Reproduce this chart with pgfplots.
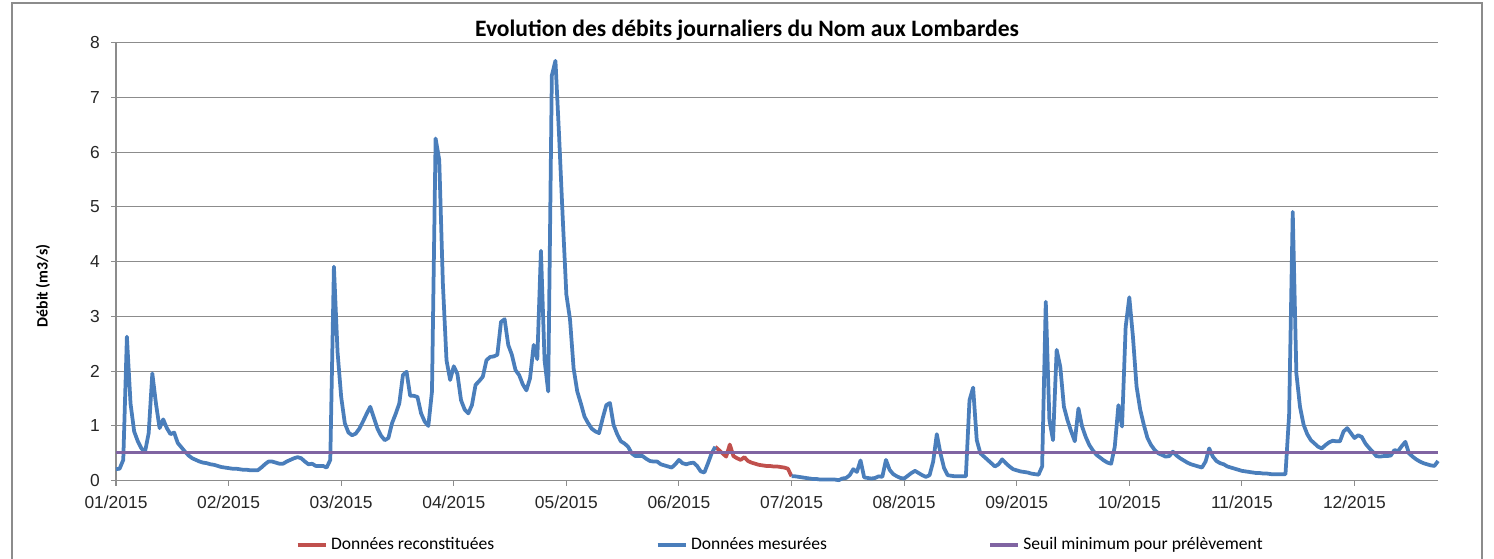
\documentclass[border=0pt]{standalone}
\usepackage{fontspec}
\setmainfont{Carlito}
\newfontfamily\arialf{Liberation Sans}
\usepackage{pgfplots}
\usepackage{pgfplotstable}
\pgfplotsset{compat=1.18}

\definecolor{mesure}{RGB}{74,126,187}
\definecolor{recons}{RGB}{192,80,77}
\definecolor{seuil}{RGB}{128,100,162}
\definecolor{grille}{RGB}{140,140,140}

% day index (0 = 01/01/2015), flow in m3/s
\pgfplotstableread{
day flow
0 0.21
1 0.22
2 0.38
3 2.63
4 1.41
5 0.90
6 0.72
7 0.59
8 0.53
9 0.87
10 1.96
11 1.41
12 0.96
13 1.12
14 0.96
15 0.85
16 0.88
17 0.69
18 0.61
19 0.53
20 0.46
21 0.41
22 0.38
23 0.35
24 0.33
25 0.32
26 0.30
27 0.29
28 0.27
29 0.25
30 0.24
31 0.23
32 0.22
33 0.22
34 0.21
35 0.20
36 0.20
37 0.19
38 0.19
39 0.19
40 0.24
41 0.30
42 0.35
43 0.35
44 0.33
45 0.31
46 0.31
47 0.35
48 0.38
49 0.41
50 0.43
51 0.41
52 0.35
53 0.30
54 0.31
55 0.27
56 0.27
57 0.27
58 0.24
59 0.38
60 3.91
61 2.35
62 1.53
63 1.05
64 0.88
65 0.83
66 0.86
67 0.95
68 1.08
69 1.22
70 1.35
71 1.15
72 0.95
73 0.82
74 0.74
75 0.78
76 1.05
77 1.22
78 1.41
79 1.93
80 1.99
81 1.55
82 1.55
83 1.53
84 1.23
85 1.08
86 1.00
87 1.63
88 6.25
89 5.86
90 3.60
91 2.20
92 1.84
93 2.09
94 1.95
95 1.47
96 1.30
97 1.23
98 1.38
99 1.75
100 1.82
101 1.90
102 2.20
103 2.26
104 2.27
105 2.30
106 2.90
107 2.95
108 2.48
109 2.30
110 2.02
111 1.93
112 1.76
113 1.65
114 1.87
115 2.48
116 2.22
117 4.20
118 2.20
119 1.63
120 7.40
121 7.67
122 6.30
123 4.80
124 3.40
125 2.95
126 2.05
127 1.63
128 1.41
129 1.17
130 1.05
131 0.95
132 0.90
133 0.87
134 1.14
135 1.38
136 1.42
137 1.02
138 0.85
139 0.72
140 0.68
141 0.62
142 0.50
143 0.45
144 0.45
145 0.45
146 0.40
147 0.36
148 0.35
149 0.35
150 0.30
151 0.28
152 0.26
153 0.24
154 0.30
155 0.38
156 0.32
157 0.30
158 0.32
159 0.33
160 0.27
161 0.17
162 0.15
163 0.32
164 0.50
165 0.62
175 nan
186 0.08
187 0.08
188 0.07
189 0.06
190 0.05
191 0.04
192 0.03
193 0.03
194 0.02
195 0.02
196 0.02
197 0.02
198 0.02
199 0.01
200 0.04
201 0.05
202 0.10
203 0.21
204 0.16
205 0.37
206 0.06
207 0.05
208 0.04
209 0.05
210 0.08
211 0.07
212 0.38
213 0.20
214 0.12
215 0.08
216 0.05
217 0.04
218 0.09
219 0.14
220 0.18
221 0.14
222 0.10
223 0.07
224 0.10
225 0.35
226 0.85
227 0.50
228 0.23
229 0.10
230 0.09
231 0.08
232 0.08
233 0.08
234 0.08
235 1.47
236 1.70
237 0.74
238 0.50
239 0.44
240 0.38
241 0.32
242 0.26
243 0.30
244 0.39
245 0.32
246 0.26
247 0.21
248 0.19
249 0.17
250 0.16
251 0.15
252 0.13
253 0.12
254 0.11
255 0.26
256 3.27
257 1.11
258 0.74
259 2.39
260 2.08
261 1.35
262 1.10
263 0.90
264 0.72
265 1.32
266 0.99
267 0.80
268 0.65
269 0.55
270 0.47
271 0.42
272 0.37
273 0.33
274 0.31
275 0.62
276 1.38
277 0.99
278 2.81
279 3.35
280 2.63
281 1.72
282 1.30
283 1.02
284 0.78
285 0.65
286 0.56
287 0.50
288 0.47
289 0.44
290 0.45
291 0.53
292 0.46
293 0.41
294 0.37
295 0.33
296 0.30
297 0.28
298 0.26
299 0.24
300 0.35
301 0.59
302 0.44
303 0.36
304 0.32
305 0.30
306 0.26
307 0.24
308 0.22
309 0.20
310 0.18
311 0.17
312 0.16
313 0.15
314 0.14
315 0.14
316 0.13
317 0.13
318 0.12
319 0.12
320 0.12
321 0.12
322 0.12
323 1.20
324 4.91
325 1.96
326 1.35
327 1.02
328 0.85
329 0.74
330 0.68
331 0.62
332 0.59
333 0.65
334 0.70
335 0.73
336 0.72
337 0.72
338 0.90
339 0.96
340 0.87
341 0.78
342 0.83
343 0.80
344 0.68
345 0.60
346 0.53
347 0.45
348 0.44
349 0.45
350 0.45
351 0.46
352 0.56
353 0.54
354 0.63
355 0.71
356 0.50
357 0.44
358 0.39
359 0.35
360 0.32
361 0.30
362 0.28
363 0.27
364 0.36
}\mesurees

\pgfplotstableread{
day flow
165 0.62
166 0.56
167 0.50
168 0.44
169 0.66
170 0.45
171 0.41
172 0.38
173 0.43
174 0.36
175 0.33
176 0.31
177 0.29
178 0.28
179 0.27
180 0.27
181 0.26
182 0.26
183 0.25
184 0.24
185 0.22
186 0.08
}\reconstituees

\begin{document}
\begin{tikzpicture}
\path[use as bounding box] (0,0) rectangle (29.88cm,11.16cm);
\draw[grille, line width=0.04cm] (0.24cm,-0.1cm) -- (0.24cm,11.106cm) -- (29.634cm,11.106cm) -- (29.634cm,-0.1cm);

\begin{axis}[
  at={(2.32cm,1.546cm)}, anchor=south west,
  scale only axis,
  width=26.44cm, height=8.76cm,
  xmin=0, xmax=364, ymin=0, ymax=8,
  enlargelimits=false,
  clip=false,
  axis x line*=bottom, axis y line*=left,
  axis line style={grille, line width=0.6pt},
  xtick={0,31,62,93,124,155,186,217,248,279,310,341},
  xticklabels={01/2015,02/2015,03/2015,04/2015,05/2015,06/2015,07/2015,08/2015,09/2015,10/2015,11/2015,12/2015},
  ytick={0,1,...,8},
  tick align=outside,
  major tick length=0.1cm,
  tick style={grille, line width=0.6pt},
  ymajorgrids,
  grid style={grille, line width=0.6pt},
  ticklabel style={font=\arialf\fontsize{9.9}{12}\selectfont, text=black!85},
  /pgf/number format/assume math mode=true,
  yticklabel style={xshift=-0.1cm},
  xticklabel style={yshift=-0.07cm},
  legend columns=3,
  legend style={at={(0.503,-0.147)}, anchor=center, draw=none, fill=none,
    font=\fontsize{10}{12}\selectfont,
    /tikz/every even column/.append style={column sep=3.16cm}},
  legend cell align=left,
  legend image code/.code={\draw[#1] (0cm,0cm) -- (0.56cm,0cm);},
]
\addplot[recons, line width=0.075cm, line join=round] table[x=day, y=flow] {\reconstituees};
\addlegendentry{Données reconstituées}
\addplot[mesure, line width=0.075cm, line join=round, unbounded coords=jump] table[x=day, y=flow] {\mesurees};
\addlegendentry{Données mesurées}
\addplot[seuil, line width=0.065cm] coordinates {(0,0.51) (364,0.51)};
\addlegendentry{Seuil minimum pour prélèvement}
\end{axis}

\node[font=\bfseries\fontsize{13.4}{16}\selectfont] at (14.94cm,10.56cm) {Evolution des débits journaliers du Nom aux Lombardes};
\node[font=\bfseries\fontsize{9}{11}\selectfont, rotate=90] at (0.86cm,5.44cm) {Débit (m3/s)};
\end{tikzpicture}
\end{document}
